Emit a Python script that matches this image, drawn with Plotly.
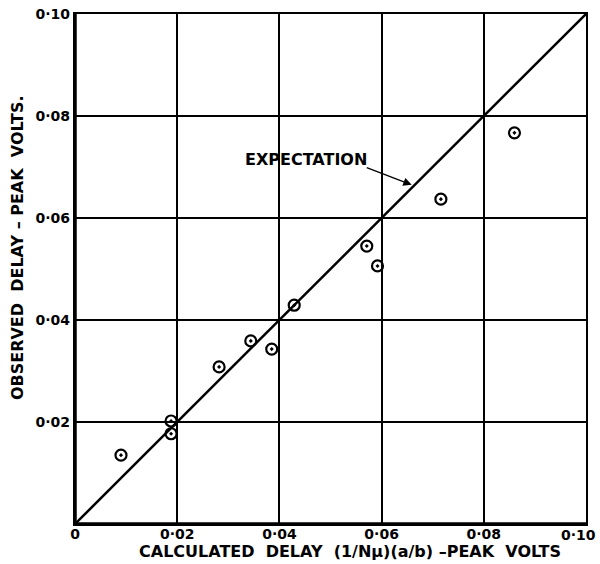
import plotly.graph_objects as go

calc_delay = [0.0090, 0.0188, 0.0188, 0.0282, 0.0344, 0.0385, 0.0429, 0.0571, 0.0592, 0.0716, 0.0860]
obs_delay = [0.0135, 0.0202, 0.0177, 0.0308, 0.0359, 0.0343, 0.0429, 0.0545, 0.0506, 0.0637, 0.0767]
expect_x = [0.0, 0.10]
expect_y = [0.0, 0.10]
tick_vals = [0, 0.02, 0.04, 0.06, 0.08, 0.10]
x_tick_text = ["0", "0·02", "0·04", "0·06", "0·08", ""]
x_last_label = "0·10"
y_tick_text = ["", "0·02", "0·04", "0·06", "0·08", "0·10"]

FONT = "DejaVu Sans"
title_font = dict(family=FONT, size=16, color="black", weight="bold")
tickfont = dict(family=FONT, size=14, color="black", weight="bold")

fig = go.Figure()
fig.add_trace(go.Scatter(x=expect_x, y=expect_y, mode="lines",
                         line=dict(color="black", width=2.5), showlegend=False))
fig.add_trace(go.Scatter(x=calc_delay, y=obs_delay, mode="markers",
                         marker=dict(symbol="circle-open-dot", size=11, color="black",
                                     line=dict(width=2.2, color="black")),
                         showlegend=False))

fig.add_annotation(x=0.0659, y=0.0665, xref="x", yref="y",
                   ax=0.0568, ay=0.0700, axref="x", ayref="y",
                   text="", showarrow=True, arrowhead=2, arrowsize=1.3,
                   arrowwidth=1.3, arrowcolor="black")
fig.add_annotation(x=0.0452, y=0.0714, xref="x", yref="y", text="EXPECTATION",
                   showarrow=False, font=title_font)

fig.add_annotation(x=0.538, y=-0.053, xref="paper", yref="paper",
                   xanchor="center", yanchor="middle",
                   text="CALCULATED  DELAY  (1/Nμ)(a/b) –PEAK  VOLTS", showarrow=False,
                   font=title_font)
fig.add_annotation(x=-0.1135, y=0.541, xref="paper", yref="paper", textangle=-90,
                   xanchor="center", yanchor="middle",
                   text="OBSERVED  DELAY – PEAK  VOLTS.", showarrow=False,
                   font=title_font)
# last x tick label kept inside the page edge
fig.add_annotation(x=1.0235, y=-0.0216, xref="paper", yref="paper",
                   xanchor="right", yanchor="middle", text=x_last_label,
                   showarrow=False, font=tickfont)

# heavier left and bottom frame edges
fig.add_shape(type="line", xref="paper", yref="paper", x0=0, x1=0, y0=0, y1=1,
              line=dict(color="black", width=3.5), layer="above")
fig.add_shape(type="line", xref="paper", yref="paper", x0=0, x1=1, y0=0, y1=0,
              line=dict(color="black", width=3.5), layer="above")

fig.update_layout(
    width=600, height=564,
    margin=dict(l=75, r=14, t=14, b=40),
    paper_bgcolor="white", plot_bgcolor="white",
    font=dict(family=FONT, color="black"),
    xaxis=dict(range=[0, 0.10], tickvals=tick_vals, ticktext=x_tick_text,
               showgrid=True, gridcolor="black", gridwidth=1.5, automargin=False,
               showline=True, linecolor="black", linewidth=2.2, mirror=True,
               zeroline=False, ticks="", tickfont=tickfont, ticklabelstandoff=-4,
               ticklabeloverflow="allow"),
    yaxis=dict(range=[0, 0.10], tickvals=tick_vals, ticktext=y_tick_text,
               showgrid=True, gridcolor="black", gridwidth=1.5, automargin=False,
               showline=True, linecolor="black", linewidth=2.2, mirror=True,
               zeroline=False, ticks="", tickfont=tickfont,
               ticklabeloverflow="allow"),
)

fig.write_html("out.html", config={"displayModeBar": False},
               post_script="document.body.style.margin='0';document.body.style.overflow='hidden';")
